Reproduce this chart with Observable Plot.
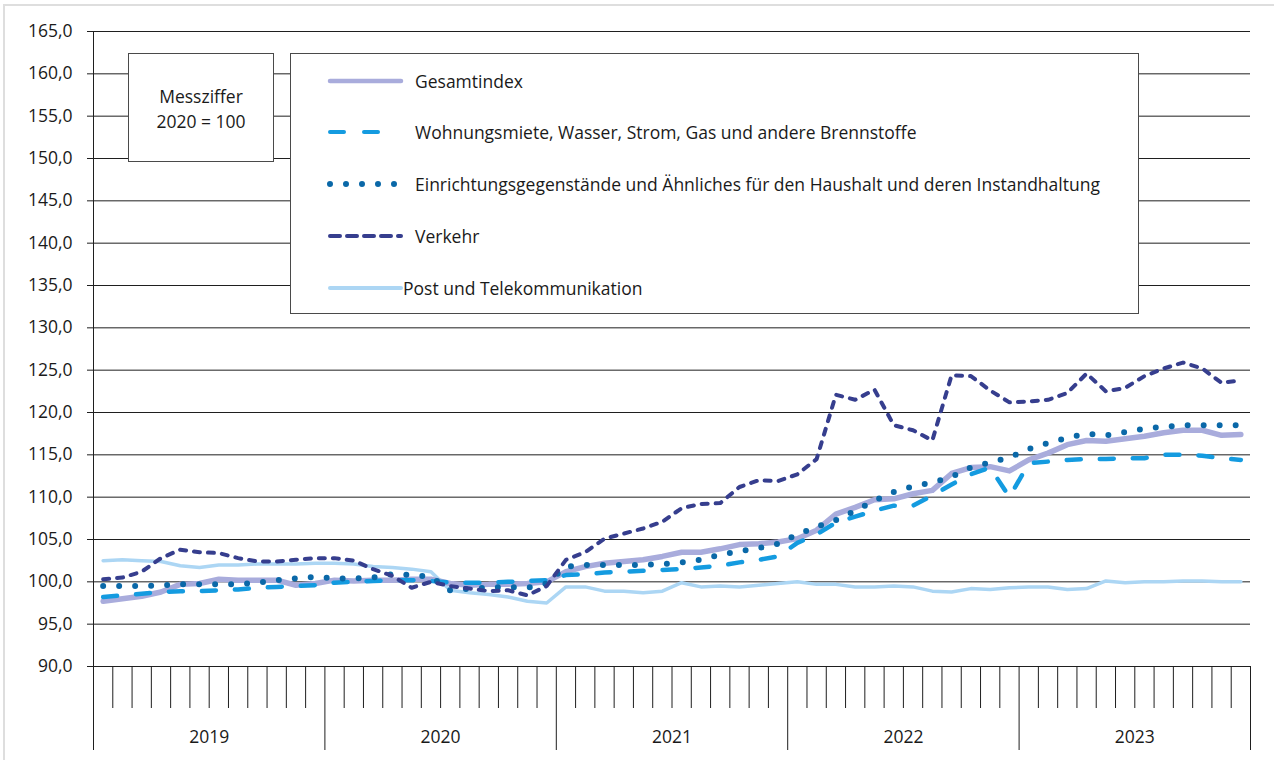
<!DOCTYPE html>
<html>
<head>
<meta charset="utf-8">
<script src="https://cdn.jsdelivr.net/npm/d3@7"></script>
<script src="https://cdn.jsdelivr.net/npm/@observablehq/plot@0.6"></script>
<style>
  body { margin: 0; background: #fff; font-family: "Open Sans", sans-serif; color: #1a1a1a; }
  #wrap { position: relative; width: 1274px; height: 760px; overflow: hidden; }
  #frame { position: absolute; left: 3px; top: 4px; right: -10px; bottom: -10px; border-top: 2px solid #dedede; border-left: 2px solid #dedede; pointer-events: none; }
  #chart { position: absolute; left: 0; top: 0; }
  .box { position: absolute; background: #fff; border: 1px solid #4a4a4a; box-sizing: border-box; }
  #mess { left: 128px; top: 53px; width: 146px; height: 109px; text-align: center; font-size: 17.5px; line-height: 25px; padding-top: 30px; }
  #legend { left: 290px; top: 53px; width: 849px; height: 261px; font-size: 17.5px; }
  .row { position: absolute; left: 0; height: 24px; display: flex; align-items: center; }
  .row svg { position: absolute; left: 34px; top: 0; }
  .row span { position: absolute; white-space: nowrap; top: 0; line-height: 24px; }
</style>
</head>
<body>
<div id="wrap">
  <div id="chart"></div>
  <div id="frame"></div>
  <div id="mess" class="box">Messziffer<br>2020 = 100</div>
  <div id="legend" class="box"></div>
</div>
<script>
const years = ["2019", "2020", "2021", "2022", "2023"];
const yTicks = [90, 95, 100, 105, 110, 115, 120, 125, 130, 135, 140, 145, 150, 155, 160, 165];

const gesamt = [97.7, 98.0, 98.3, 98.8, 99.7, 99.8, 100.3, 100.2, 100.2, 100.2, 99.6, 99.8,
  100.2, 100.1, 100.2, 100.2, 100.3, 100.3, 99.8, 99.6, 99.7, 99.7, 99.8, 100.0,
  101.2, 101.8, 102.2, 102.4, 102.6, 103.0, 103.5, 103.5, 103.9, 104.4, 104.5, 104.7,
  105.1, 106.1, 108.0, 108.8, 109.7, 109.8, 110.4, 110.8, 112.8, 113.5, 113.6, 113.1,
  114.4, 115.2, 116.2, 116.7, 116.6, 116.9, 117.2, 117.6, 117.9, 117.9, 117.3, 117.4];
const wohnung = [98.2, 98.4, 98.6, 98.8, 98.9, 98.9, 99.0, 99.1, 99.3, 99.4, 99.5, 99.6,
  99.9, 100.0, 100.1, 100.2, 100.2, 100.1, 99.9, 99.9, 99.9, 100.0, 100.1, 100.2,
  100.8, 100.9, 101.1, 101.2, 101.3, 101.4, 101.5, 101.7, 101.9, 102.3, 102.6, 103.0,
  104.6, 105.6, 107.0, 107.7, 108.4, 109.0, 109.0, 110.2, 111.5, 112.7, 113.5, 110.0,
  114.0, 114.2, 114.4, 114.5, 114.5, 114.6, 114.6, 115.0, 115.0, 114.9, 114.6, 114.4];
const einrichtung = [99.5, 99.5, 99.5, 99.6, 99.7, 99.7, 99.7, 99.7, 99.9, 100.2, 100.4, 100.6,
  100.4, 100.4, 100.5, 100.9, 100.8, 100.6, 99.0, 99.2, 99.3, 99.4, 99.3, 99.8,
  101.8, 102.0, 102.0, 102.0, 102.0, 102.1, 102.3, 102.6, 103.2, 103.6, 104.0, 104.5,
  105.6, 106.5, 107.3, 108.4, 109.6, 110.6, 111.3, 111.7, 112.4, 113.5, 114.1, 114.7,
  115.7, 116.4, 117.0, 117.5, 117.3, 117.7, 118.1, 118.3, 118.5, 118.5, 118.5, 118.5];
const verkehr = [100.3, 100.5, 101.2, 102.8, 103.8, 103.5, 103.4, 102.8, 102.4, 102.4, 102.6, 102.8,
  102.8, 102.5, 101.5, 100.7, 99.3, 100.0, 99.5, 99.2, 98.9, 99.0, 98.4, 99.5,
  102.6, 103.5, 105.1, 105.7, 106.3, 107.1, 108.7, 109.2, 109.3, 111.2, 112.0, 111.9,
  112.7, 114.5, 122.1, 121.5, 122.7, 118.5, 117.9, 116.7, 124.4, 124.3, 122.6, 121.2,
  121.3, 121.5, 122.3, 124.6, 122.5, 122.9, 124.3, 125.2, 125.9, 125.2, 123.5, 123.8];
const post = [102.5, 102.6, 102.5, 102.4, 101.9, 101.7, 102.0, 102.0, 102.1, 102.1, 102.1, 102.2,
  102.2, 102.1, 101.8, 101.7, 101.5, 101.2, 99.0, 98.7, 98.5, 98.2, 97.7, 97.5,
  99.4, 99.4, 98.9, 98.9, 98.7, 98.9, 99.9, 99.4, 99.5, 99.4, 99.6, 99.8,
  100.0, 99.7, 99.7, 99.4, 99.4, 99.5, 99.4, 98.9, 98.8, 99.2, 99.1, 99.3,
  99.4, 99.4, 99.1, 99.2, 100.1, 99.9, 100.0, 100.0, 100.1, 100.1, 100.0, 100.0];

const seriesNames = [
  "Gesamtindex",
  "Wohnungsmiete, Wasser, Strom, Gas und andere Brennstoffe",
  "Einrichtungsgegenstände und Ähnliches für den Haushalt und deren Instandhaltung",
  "Verkehr",
  "Post und Telekommunikation"
];

const styles = [
  {stroke: "#a9acdc", strokeWidth: 5.5, strokeDasharray: null, strokeLinecap: "round"},
  {stroke: "#149be0", strokeWidth: 4.5, strokeDasharray: "14,19", strokeLinecap: "round"},
  {stroke: "#0a68a8", strokeWidth: 6, strokeDasharray: "0,16", strokeLinecap: "round"},
  {stroke: "#363e8e", strokeWidth: 4, strokeDasharray: "6,8", strokeLinecap: "round"},
  {stroke: "#acd6f4", strokeWidth: 3.5, strokeDasharray: null, strokeLinecap: "round"}
];
const allValues = [gesamt, wohnung, einrichtung, verkehr, post];
const toRows = (vals) => vals.map((v, i) => ({m: i + 0.5, v}));

const comma = d => d.toFixed(1).replace(".", ",");
const monthTicks = d3.range(1, 60).filter(k => k % 12 !== 0);
const yearTicks = d3.range(0, 61, 12);
const yearMids = years.map((y, i) => i * 12 + 6);

const drawOrder = [4, 0, 1, 2, 3];
const lineMarks = drawOrder.map(i => Plot.line(toRows(allValues[i]), {
  x: "m", y: "v",
  stroke: styles[i].stroke,
  strokeWidth: styles[i].strokeWidth,
  strokeDasharray: styles[i].strokeDasharray,
  strokeLinecap: styles[i].strokeLinecap,
  strokeLinejoin: "round"
}));

const chart = Plot.plot({
  width: 1274,
  height: 760,
  marginLeft: 93,
  marginRight: 24,
  marginTop: 31,
  marginBottom: 94,
  style: {fontFamily: "Open Sans, sans-serif", fontSize: "17.5px", color: "#1a1a1a", background: "transparent"},
  x: {domain: [0, 60]},
  y: {domain: [90, 165]},
  marks: [
    Plot.gridY(yTicks, {stroke: "#1f1f1f", strokeOpacity: 1, strokeWidth: 1}),
    Plot.axisY(yTicks, {tickSize: 6, tickPadding: 15, tickFormat: comma, label: null, fontSize: 17.5, stroke: "#1f1f1f"}),
    Plot.ruleX([0], {stroke: "#1f1f1f"}),
    Plot.ruleY([90], {stroke: "#1f1f1f"}),
    Plot.axisX(monthTicks, {tickSize: 42, tickFormat: () => "", label: null, stroke: "#1f1f1f"}),
    Plot.axisX(yearTicks, {tickSize: 84, tickFormat: () => "", label: null, stroke: "#1f1f1f"}),
    Plot.axisX(yearMids, {tickSize: 0, tickPadding: 64, tickFormat: k => years[Math.floor(k / 12)], label: null, fontSize: 17.5}),
    ...lineMarks
  ]
});
document.getElementById("chart").appendChild(chart);

// legend
const legend = document.getElementById("legend");
const rowTops = [15, 66, 118, 170, 222];
const legendSamples = [
  {dash: null, width: 4.5, x2: 106},
  {dash: "14,20", width: 4, x2: 90},
  {dash: "0,16", width: 6, x2: 106},
  {dash: "10,7", width: 4, x2: 106},
  {dash: null, width: 4, x2: 106}
];
seriesNames.forEach((name, i) => {
  const row = document.createElement("div");
  row.className = "row";
  row.style.top = rowTops[i] + "px";
  const s = legendSamples[i];
  const svgNS = "http://www.w3.org/2000/svg";
  const svg = document.createElementNS(svgNS, "svg");
  svg.setAttribute("width", 80);
  svg.setAttribute("height", 24);
  const ln = document.createElementNS(svgNS, "line");
  ln.setAttribute("x1", 5);
  ln.setAttribute("x2", s.x2 - 30);
  ln.setAttribute("y1", 12);
  ln.setAttribute("y2", 12);
  ln.setAttribute("stroke", styles[i].stroke);
  ln.setAttribute("stroke-width", s.width);
  ln.setAttribute("stroke-linecap", "round");
  if (s.dash) ln.setAttribute("stroke-dasharray", s.dash);
  svg.appendChild(ln);
  row.appendChild(svg);
  const span = document.createElement("span");
  span.textContent = name;
  span.style.left = (i === 4 ? 112 : 124) + "px";
  row.appendChild(span);
  legend.appendChild(row);
});
</script>
</body>
</html>
